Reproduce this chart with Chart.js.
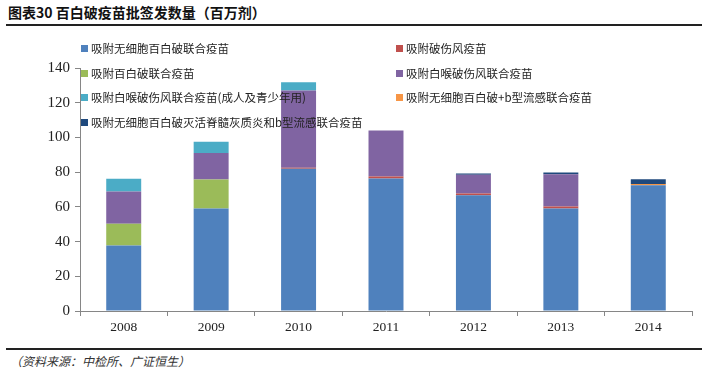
<!DOCTYPE html>
<html>
<head>
<meta charset="utf-8">
<script src="https://cdn.jsdelivr.net/npm/chart.js@4.4.0/dist/chart.umd.min.js"></script>
<style>
  body { margin: 0; background: #fff; width: 710px; height: 377px; position: relative; overflow: hidden; }
  .title { position: absolute; left: 8px; top: 2px; font: bold 14px "Noto Sans CJK SC"; color: #111; }
  .rule { position: absolute; left: 6px; width: 696px; height: 2px; background: #222; }
  .src { position: absolute; left: 10px; top: 352px; font: italic 12px "Noto Sans CJK SC"; color: #333; }
  #box { position: absolute; left: 0; top: 30px; width: 710px; height: 315px; }
  #legend { position: absolute; left: 0; top: 0; width: 710px; height: 140px; pointer-events: none; }
  .item { position: absolute; font: 11.5px "Noto Sans CJK SC"; color: #222; white-space: nowrap; line-height: 14px; }
  .item i { display: inline-block; width: 7px; height: 7px; margin-right: 3px; vertical-align: 1px; }
</style>
</head>
<body>
<div class="title">图表30 百白破疫苗批签发数量（百万剂）</div>
<div class="rule" style="top:24px"></div>
<div id="box"><canvas id="myChart"></canvas></div>
<div id="legend"></div>
<div class="rule" style="top:348px;height:1.5px"></div>
<div class="src">（资料来源：中检所、广证恒生）</div>
<script>
// donnees
let years = ['2008', '2009', '2010', '2011', '2012', '2013', '2014'];
let names = [
  '吸附无细胞百白破联合疫苗',
  '吸附破伤风疫苗',
  '吸附百白破联合疫苗',
  '吸附白喉破伤风联合疫苗',
  '吸附白喉破伤风联合疫苗(成人及青少年用)',
  '吸附无细胞百白破+b型流感联合疫苗',
  '吸附无细胞百白破灭活脊髓灰质炎和b型流感联合疫苗'
];
let colorHex = ['#4F81BD', '#C0504D', '#9BBB59', '#8064A2', '#4BACC6', '#F79646', '#1F497D'];
let dtap = [37.7, 59, 82, 76.3, 66.7, 59, 72.5];
let tetanus = [0, 0, 0.5, 1.2, 1, 1.2, 0];
let dtp = [12.5, 16.8, 0, 0, 0, 0, 0];
let dt = [18.6, 15.2, 44.5, 26.5, 10.8, 18.6, 0];
let dtAdult = [7.4, 6.5, 4.8, 0, 0, 0, 0];
let dtapHib = [0, 0, 0, 0, 0, 0, 0.6];
let dtapIpvHib = [0, 0, 0, 0, 0.7, 1, 2.8];
let yTicks = [0, 20, 40, 60, 80, 100, 120, 140];

let series = [dtap, tetanus, dtp, dt, dtAdult, dtapHib, dtapIpvHib];

// legende html (2 colonnes)
let legend = document.getElementById('legend');
names.forEach((n, i) => {
  let d = document.createElement('div');
  d.className = 'item';
  d.style.left = (i % 2 === 0 ? 81 : 396) + 'px';
  d.style.top = (41 + Math.floor(i / 2) * 24.5) + 'px';
  d.innerHTML = '<i style="background:' + colorHex[i] + '"></i>' + n;
  legend.appendChild(d);
});

let serif = 'Liberation Serif';
let ctx = document.getElementById('myChart').getContext('2d');
let myChart = new Chart(ctx, {
  type: 'bar',
  data: {
    labels: years,
    datasets: series.map((s, i) => ({
      label: names[i],
      data: s,
      backgroundColor: colorHex[i],
      barPercentage: 0.4,
      categoryPercentage: 1
    }))
  },
  options: {
    responsive: true,
    maintainAspectRatio: false,
    animation: false,
    layout: { padding: { left: 0, top: 38, right: 18, bottom: 0 } },
    plugins: { legend: { display: false }, tooltip: { enabled: false } },
    scales: {
      x: {
        stacked: true,
        afterFit: (s) => { s.height = 34; },
        grid: { display: true, drawOnChartArea: false, tickLength: 5, color: '#868686' },
        border: { color: '#868686' },
        ticks: { color: '#222', font: { family: serif, size: 13.5 }, padding: 3 }
      },
      y: {
        stacked: true,
        min: 0,
        max: 140,
        afterFit: (s) => { s.width = 80; },
        afterBuildTicks: (s) => { s.ticks = yTicks.map(v => ({ value: v })); },
        grid: { display: true, drawOnChartArea: false, tickLength: 5, color: '#868686' },
        border: { color: '#868686' },
        ticks: { color: '#222', font: { family: serif, size: 15 }, padding: 5 }
      }
    }
  }
});
</script>
</body>
</html>
